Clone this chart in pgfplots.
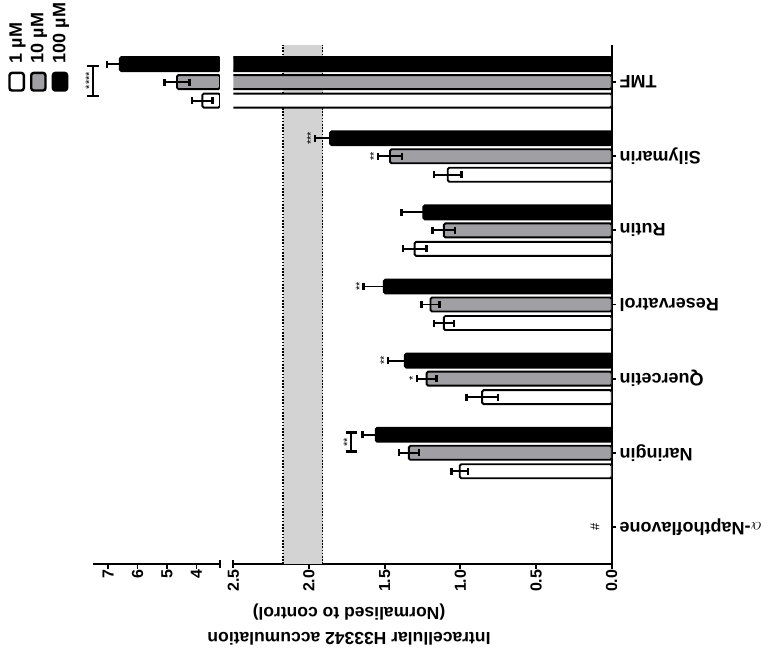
\documentclass[border=0pt]{standalone}
\usepackage{fontspec}
\setmainfont{Liberation Sans}
\usepackage{pgfplots}
\usepackage{pgfplotstable}
\pgfplotsset{compat=1.18}
\definecolor{bargray}{RGB}{160,160,164}
\definecolor{bandgray}{RGB}{211,211,211}

% c: 0 alpha-Napthoflavone, 1 Naringin, 2 Quercetin, 3 Reservatrol, 4 Rutin, 5 Silymarin, 6 TMF
\pgfplotstableread{
c v e
1 1.004 0.055
2 0.856 0.104
3 1.109 0.066
4 1.302 0.077
5 1.083 0.090
6 3.80 0.35
}\lowdata
\pgfplotstableread{
c v e
1 1.340 0.066
2 1.223 0.064
3 1.197 0.058
4 1.109 0.075
5 1.465 0.080
6 4.66 0.42
}\middata
\pgfplotstableread{
c v e
1 1.559 0.088
2 1.366 0.112
3 1.505 0.135
4 1.245 0.145
5 1.860 0.100
6 6.60 0.43
}\highdata

\tikzset{stars/.style={rotate=90, anchor=south, inner sep=0pt, font=\fontsize{11bp}{11bp}\selectfont}}

\begin{document}
\begin{tikzpicture}
\pgfplotsset{
 brk/.style={
  scale only axis, height=519bp, ymin=-0.5, ymax=6.5, x dir=reverse,
  clip mode=individual,
  axis x line*=bottom,
  axis line style={line width=2bp},
  tick style={line width=1.8bp, black},
  tick align=outside, major tick length=4.5bp,
  xticklabel style={rotate=90, anchor=east, font=\fontsize{16bp}{16bp}\selectfont\bfseries, inner sep=1bp},
 },
 barbase/.style={xbar, bar width=14bp, bar shift=0bp, line width=1.9bp, draw=black, rounded corners=1.5bp,
   error bars/.cd, x dir=both, x explicit,
   error bar style={line width=1.9bp, black, sharp corners},
   error mark=|,
   error mark options={line width=2.6bp, mark size=3.5bp, black}},
 bandline/.style={black, line width=1.6bp, dash pattern=on 1.6bp off 1.6bp},
}
% lower segment 0 - 2.5
\begin{axis}[brk, width=378.4bp, at={(233.3bp,-564bp)}, anchor=south west,
 xmin=0, xmax=2.5, axis y line*=right,
 xtick={0,0.5,1,1.5,2}, xticklabels={0.0,0.5,1.0,1.5,2.0},
 extra x ticks={2.5}, extra x tick labels={2.5},
 extra x tick style={tick align=center, major tick length=8bp},
 ytick={0,1,2,3,4,5,6},
 yticklabels={$\alpha$-Napthoflavone,Naringin,Quercetin,Reservatrol,Rutin,Silymarin,TMF},
 yticklabel style={rotate=180, anchor=east, font=\fontsize{18bp}{18bp}\selectfont\bfseries},
]
\addplot[fill=bandgray, draw=none] coordinates {(1.91,-0.5) (2.17,-0.5) (2.17,6.5) (1.91,6.5)} -- cycle;
\addplot[bandline] coordinates {(1.91,-0.5) (1.91,6.5)};
\addplot[bandline] coordinates {(2.17,-0.5) (2.17,6.5)};
\addplot[fill=white, barbase] table[x=v, y expr=\thisrow{c}-0.2495, x error=e] {\lowdata};
\addplot[fill=bargray, barbase] table[x=v, y=c, x error=e] {\middata};
\addplot[fill=black, barbase] table[x=v, y expr=\thisrow{c}+0.2428, x error=e] {\highdata};
% significance marks
\node[stars] at (axis cs:1.961,5.243) {***};
\node[stars] at (axis cs:1.545,5) {**};
\node[stars] at (axis cs:1.640,3.243) {**};
\node[stars] at (axis cs:1.478,2.243) {**};
\node[stars] at (axis cs:1.287,2) {*};
\draw[line width=2.2bp] (axis cs:1.72,1.015) -- (axis cs:1.72,1.271);
\draw[line width=2.8bp] ([xshift=-5.5bp]axis cs:1.72,1.015) -- ([xshift=5.5bp]axis cs:1.72,1.015);
\draw[line width=2.8bp] ([xshift=-5.5bp]axis cs:1.72,1.271) -- ([xshift=5.5bp]axis cs:1.72,1.271);
\node[stars] at (axis cs:1.72,1.143) {**};
\node[rotate=90, font=\fontsize{13bp}{13bp}\selectfont] at ([xshift=-16.7bp]axis cs:0,0) {\#};
\end{axis}
% upper segment 3.2 - 7.5
\begin{axis}[brk, width=126.7bp, at={(93.3bp,-564bp)}, anchor=south west,
 xmin=3.2, xmax=7.5, axis y line=none, ytick=\empty,
 xtick={4,5,6,7}, xticklabels={4,5,6,7},
 extra x ticks={3.2}, extra x tick labels={},
 extra x tick style={tick align=center, major tick length=8bp},
 restrict y to domain=5.5:6.5,
]
\addplot[fill=white, barbase] table[x=v, y expr=\thisrow{c}-0.2495, x error=e] {\lowdata};
\addplot[fill=bargray, barbase] table[x=v, y=c, x error=e] {\middata};
\addplot[fill=black, barbase] table[x=v, y expr=\thisrow{c}+0.2428, x error=e] {\highdata};
\draw[line width=2.2bp] (axis cs:7.5,5.812) -- (axis cs:7.5,6.217);
\draw[line width=2.8bp] ([xshift=-6bp]axis cs:7.5,5.812) -- ([xshift=6bp]axis cs:7.5,5.812);
\draw[line width=2.8bp] ([xshift=-6bp]axis cs:7.5,6.217) -- ([xshift=6bp]axis cs:7.5,6.217);
\node[stars] at (axis cs:7.5,6.02) {****};
\end{axis}
% axis title
\node[rotate=180, align=center, inner sep=0pt, font=\fontsize{17.5bp}{25bp}\selectfont\bfseries]
  at (349bp,-624.5bp) {Intracellular H33342 accumulation\\(Normalised to control)};
% legend
\draw[line width=2.4bp, rounded corners=2.5bp, fill=white] (9.5bp,-72.9bp) rectangle (23.8bp,-90.5bp);
\draw[line width=2.4bp, rounded corners=2.5bp, fill=bargray] (31.2bp,-72.9bp) rectangle (45.5bp,-90.5bp);
\draw[line width=2.4bp, rounded corners=2.5bp, fill=black] (52.9bp,-72.9bp) rectangle (67.1bp,-90.5bp);
\node[rotate=90, anchor=west, inner sep=0pt, font=\fontsize{18bp}{18bp}\selectfont\bfseries] at (17.5bp,-63.3bp) {1 µM};
\node[rotate=90, anchor=west, inner sep=0pt, font=\fontsize{18bp}{18bp}\selectfont\bfseries] at (39bp,-63.3bp) {10 µM};
\node[rotate=90, anchor=west, inner sep=0pt, font=\fontsize{18bp}{18bp}\selectfont\bfseries] at (61bp,-63.3bp) {100 µM};
\pgfresetboundingbox
\path[use as bounding box] (0,0) rectangle (769bp,-654bp);
\end{tikzpicture}
\end{document}
